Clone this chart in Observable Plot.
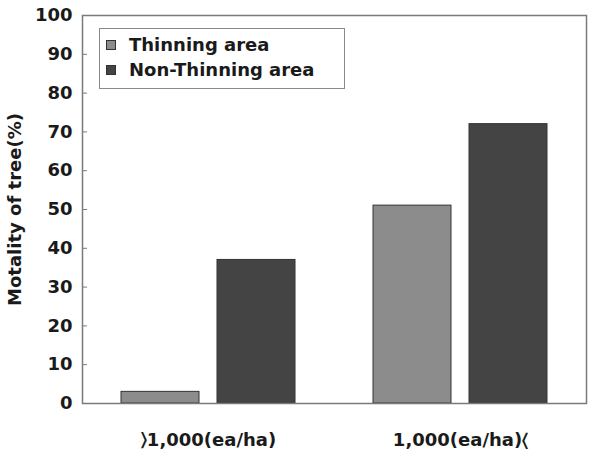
<!DOCTYPE html>
<html>
<head>
<meta charset="utf-8">
<script src="https://cdn.jsdelivr.net/npm/d3@7"></script>
<script src="https://cdn.jsdelivr.net/npm/@observablehq/plot@0.6"></script>
<style>
  html, body { margin: 0; padding: 0; background: #fff; }
  #wrap { position: relative; width: 590px; height: 453px; font-family: "DejaVu Sans", sans-serif; }
  #legend { position: absolute; left: 99px; top: 28px; width: 244px; height: 59px; border: 1.5px solid #8a8a8a; background: #fff; }
  .item { position: absolute; left: 6px; display: flex; align-items: center; font-size: 18px; font-weight: bold; color: #1a1a1a; }
  .sw { width: 8px; height: 8px; border: 1px solid #333; margin-right: 13px; }
</style>
</head>
<body>
<div id="wrap"></div>
<script>
const groups = ["\u232A1,000(ea/ha)", "1,000(ea/ha)\u2329"];
const series = ["Thinning area", "Non-Thinning area"];
const thinning = [3, 51];
const nonThinning = [37, 72];
const yTicks = [0, 10, 20, 30, 40, 50, 60, 70, 80, 90, 100];
const colors = ["#8c8c8c", "#444444"];
const yLabel = "Motality of tree(%)";

const data = [];
groups.forEach((g, i) => {
  data.push({group: g, series: series[0], value: thinning[i]});
  data.push({group: g, series: series[1], value: nonThinning[i]});
});

const chart = Plot.plot({
  width: 590,
  height: 453,
  marginTop: 15,
  marginBottom: 50,
  marginLeft: 82,
  marginRight: 4,
  style: {fontFamily: "DejaVu Sans, sans-serif", color: "#1a1a1a", fontWeight: "bold"},
  fx: {domain: groups, padding: 0, label: null},
  x: {domain: series, paddingInner: 0.19, paddingOuter: 0.4, axis: null},
  y: {domain: [0, 100]},
  color: {domain: series, range: colors},
  marks: [
    Plot.barY(data, {fx: "group", x: "series", y: "value", fill: "series", stroke: "#333", strokeWidth: 1}),
    Plot.frame({facet: "super", stroke: "#7a7a7a", strokeWidth: 1.5}),
    Plot.axisY({ticks: yTicks, tickSize: -5, tickPadding: 15, label: null, fontSize: 18, stroke: "#7a7a7a"}),
    Plot.axisY({ticks: [], label: yLabel, labelAnchor: "center", labelArrow: "none", labelOffset: 74, fontSize: 18}),
    Plot.axisFx({anchor: "bottom", tickSize: 0, tickPadding: 30, label: null, fontSize: 18})
  ]
});

const wrap = document.getElementById("wrap");
wrap.appendChild(chart);

const legend = document.createElement("div");
legend.id = "legend";
series.forEach((s, i) => {
  const item = document.createElement("div");
  item.className = "item";
  item.style.top = (i === 0 ? 5 : 30) + "px";
  const sw = document.createElement("span");
  sw.className = "sw";
  sw.style.background = colors[i];
  item.appendChild(sw);
  const t = document.createElement("span");
  t.textContent = s;
  item.appendChild(t);
  legend.appendChild(item);
});
wrap.appendChild(legend);
</script>
</body>
</html>
